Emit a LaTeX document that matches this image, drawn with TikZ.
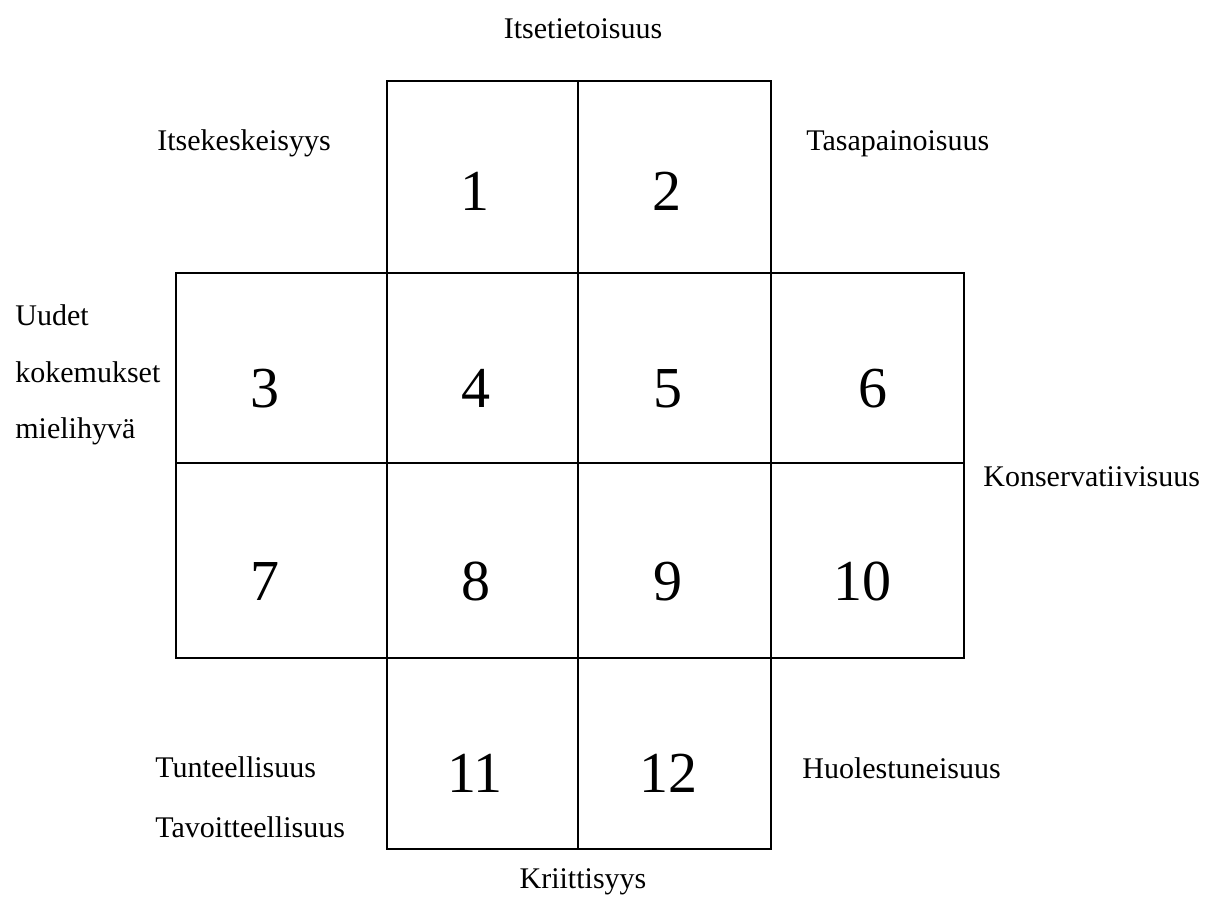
\documentclass[tikz,border=0pt]{standalone}
\usepackage{fontspec}
\setmainfont{Liberation Serif}
\usetikzlibrary{positioning}

\begin{document}
\begin{tikzpicture}[
  x=0.5pt, y=-0.5pt,
  cell/.style={draw, line width=1pt},
  num/.style={font=\fontsize{29}{29}\selectfont, anchor=base, inner sep=0pt},
  lbl/.style={font=\fontsize{15}{15}\selectfont, anchor=base west, inner sep=0pt}
]
\useasboundingbox (0,0) rectangle (1215,899);

% the twelve cells
\foreach \xa/\ya/\xb/\yb in {387/81/578/273, 578/81/771/273,
    176/273/387/463, 387/273/578/463, 578/273/771/463, 771/273/964/463,
    176/463/387/658, 387/463/578/658, 578/463/771/658, 771/463/964/658,
    387/658/578/849, 578/658/771/849}
  \draw[cell] (\xa,\ya) rectangle (\xb,\yb);

% numbers
\foreach \n/\x/\y in {1/475/210, 2/667/210,
    3/265/407, 4/476/407, 5/668/407, 6/873/407,
    7/265/600, 8/476/600, 9/668/600, 10/862/600,
    11/475/792, 12/668/792}
  \node[num] (n\n) at (\x,\y) {\n};

% labels round the grid
\node[lbl, anchor=base] (top) at (583,39) {Itsetietoisuus};
\node[lbl] (ego) at (157,150) {Itsekeskeisyys};
\node[lbl] (bal) at (806,150) {Tasapainoisuus};
\node[lbl] (new1) at (15,325) {Uudet};
\node[lbl] (new2) at (15,382) {kokemukset};
\node[lbl] (new3) at (15,438) {mielihyvä};
\node[lbl] (cons) at (983,486) {Konservatiivisuus};
\node[lbl] (emo) at (155,777) {Tunteellisuus};
\node[lbl] (goal) at (155,837) {Tavoitteellisuus};
\node[lbl] (worry) at (802,778) {Huolestuneisuus};
\node[lbl, anchor=base] (crit) at (583,888) {Kriittisyys};
\end{tikzpicture}
\end{document}
